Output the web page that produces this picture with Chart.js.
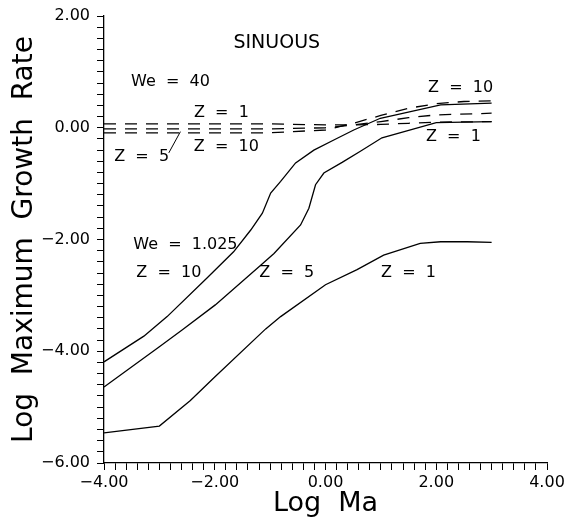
<!DOCTYPE html>
<html>
<head>
<meta charset="utf-8">
<style>
  html, body { margin: 0; padding: 0; background: #fff; }
  #wrap { width: 564px; height: 517px; }
</style>
</head>
<body>
<div id="wrap">
    <canvas id="myChart" width="564" height="517"></canvas>
</div>
<script src="https://cdn.jsdelivr.net/npm/chart.js"></script>
<script>
    // We = 1.025, solid curves
    const z10Ma   = [-4, -3.28, -2.86, -2.14, -1.66, -1.35, -1.14, -0.99, -0.81, -0.54, -0.21, 0.15, 0.51, 0.99, 2.08, 3.0];
    const z10Rate = [-4.19, -3.73, -3.38, -2.69, -2.22, -1.83, -1.53, -1.17, -0.96, -0.63, -0.40, -0.22, -0.04, 0.17, 0.41, 0.44];

    const z5Ma   = [-4, -3, -2.59, -1.99, -1.17, -0.93, -0.45, -0.30, -0.18, -0.03, 0.3, 0.63, 1.02, 2.0, 3.0];
    const z5Rate = [-4.64, -3.92, -3.62, -3.17, -2.46, -2.25, -1.74, -1.44, -1.02, -0.81, -0.62, -0.42, -0.18, 0.09, 0.11];

    const z1Ma   = [-4, -3, -2.44, -2.0, -1.08, -0.81, 0, 0.57, 1.05, 1.71, 2.08, 2.56, 3.0];
    const z1Rate = [-5.46, -5.34, -4.88, -4.46, -3.6, -3.38, -2.81, -2.54, -2.28, -2.07, -2.04, -2.04, -2.05];

    // We = 40, dashed curves
    const w40z1Ma   = [-4, -1, 0, 0.5, 1, 1.5, 2, 3];
    const w40z1Rate = [0.07, 0.07, 0.05, 0.05, 0.06, 0.08, 0.10, 0.11];

    const w40z5Ma   = [-4, -1, 0, 0.5, 1, 1.5, 2, 3];
    const w40z5Rate = [-0.02, -0.02, 0.0, 0.05, 0.11, 0.18, 0.23, 0.26];

    const w40z10Ma   = [-4, -1, 0, 0.5, 1, 1.5, 2, 2.5, 3];
    const w40z10Rate = [-0.09, -0.09, -0.04, 0.08, 0.22, 0.35, 0.43, 0.47, 0.48];

    // text labels placed in data units
    const noteText = ['SINUOUS', 'We  =  40', 'Z  =  1', 'Z  =  10', 'Z  =  5', 'We  =  1.025', 'Z  =  10', 'Z  =  5', 'Z  =  1', 'Z  =  10', 'Z  =  1'];
    const noteX    = [-0.88, -2.80, -1.88, -1.79, -3.32, -2.53, -2.83, -0.70, 1.50, 2.44, 2.31];
    const noteY    = [1.52, 0.82, 0.27, -0.34, -0.52, -2.10, -2.60, -2.60, -2.60, 0.72, -0.16];

    function pts(xs, ys) {
        return xs.map((x, i) => ({x: x, y: ys[i]}));
    }

    function lineSet(xs, ys, dashed) {
        return {
            data: pts(xs, ys),
            showLine: true,
            borderColor: '#000',
            borderWidth: 1.3,
            borderDash: dashed ? [12, 9] : [],
            pointRadius: 0,
            fill: false
        };
    }

    function fmt(v) {
        const s = Math.abs(v).toFixed(2);
        return v < -1e-9 ? '\u2212' + s : s;
    }

    const notesPlugin = {
        id: 'notes',
        afterDatasetsDraw(chart) {
            const ctx = chart.ctx;
            const xs = chart.scales.x, ys = chart.scales.y;
            ctx.save();
            ctx.fillStyle = '#000';
            ctx.textAlign = 'center';
            ctx.textBaseline = 'middle';
            noteText.forEach((t, i) => {
                ctx.font = i === 0 ? '19px "DejaVu Sans"' : '16px "DejaVu Sans"';
                ctx.fillText(t, xs.getPixelForValue(noteX[i]), ys.getPixelForValue(noteY[i]));
            });
            // pointer from "Z = 5" to its dashed line
            ctx.strokeStyle = '#000';
            ctx.lineWidth = 1;
            ctx.beginPath();
            ctx.moveTo(xs.getPixelForValue(-2.83), ys.getPixelForValue(-0.45));
            ctx.lineTo(xs.getPixelForValue(-2.62), ys.getPixelForValue(-0.07));
            ctx.stroke();
            ctx.restore();
        }
    };

    const tickFont = {family: 'DejaVu Sans', size: 16};

    new Chart(document.getElementById('myChart'), {
        type: 'scatter',
        data: {
            datasets: [
                lineSet(z10Ma, z10Rate, false),
                lineSet(z5Ma, z5Rate, false),
                lineSet(z1Ma, z1Rate, false),
                lineSet(w40z1Ma, w40z1Rate, true),
                lineSet(w40z5Ma, w40z5Rate, true),
                lineSet(w40z10Ma, w40z10Rate, true)
            ]
        },
        options: {
            responsive: false,
            animation: false,
            layout: {padding: {left: 0, top: 16, right: 17, bottom: 0}},
            plugins: {legend: {display: false}, tooltip: {enabled: false}},
            scales: {
                x: {
                    min: -4, max: 4,
                    border: {color: '#000', width: 1.3},
                    grid: {drawOnChartArea: false, color: '#000', tickLength: 7, lineWidth: 1},
                    ticks: {
                        stepSize: 0.2,
                        autoSkip: false,
                        maxRotation: 0,
                        color: '#000',
                        font: tickFont,
                        padding: 3,
                        callback: function(value) {
                            return Math.abs(Math.round(value / 2) * 2 - value) < 1e-6 ? fmt(value) : '';
                        }
                    },
                    title: {display: true, text: 'Log  Ma', color: '#000',
                        font: {family: 'DejaVu Sans', size: 27, lineHeight: 1.0}, padding: {top: 0, bottom: 0}},
                    afterFit: function(scale) {
                        scale.height = 54;
                        scale.paddingLeft = 0;
                        scale.paddingRight = 0;
                    }
                },
                y: {
                    min: -6, max: 2,
                    border: {color: '#000', width: 1.3},
                    grid: {drawOnChartArea: false, color: '#000', tickLength: 7, lineWidth: 1},
                    ticks: {
                        stepSize: 0.2,
                        autoSkip: false,
                        color: '#000',
                        font: tickFont,
                        padding: 7,
                        callback: function(value) {
                            return Math.abs(Math.round(value / 2) * 2 - value) < 1e-6 ? fmt(value) : '';
                        }
                    },
                    title: {display: true, text: 'Log  Maximum  Growth  Rate', color: '#000',
                        font: {family: 'DejaVu Sans', size: 28, lineHeight: 1.2}, padding: {top: 8, bottom: 0}},
                    afterFit: function(scale) {
                        scale.width = 104;
                        scale.paddingTop = 0;
                        scale.paddingBottom = 0;
                    }
                }
            }
        },
        plugins: [notesPlugin]
    });
</script>
</body>
</html>
